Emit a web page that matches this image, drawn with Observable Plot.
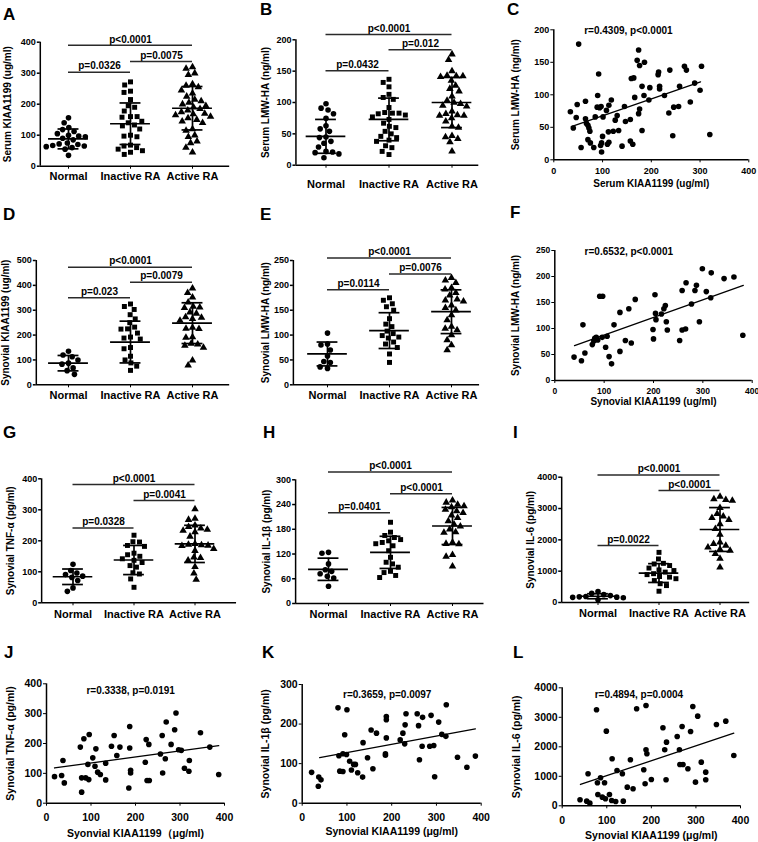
<!DOCTYPE html>
<html>
<head>
<meta charset="utf-8">
<script src="https://cdn.jsdelivr.net/npm/d3@7"></script>
<script src="https://cdn.jsdelivr.net/npm/@observablehq/plot@0.6"></script>
<style>
  html, body { margin: 0; padding: 0; background: #fff; }
  #fig { position: relative; width: 758px; height: 842px; background: #fff; overflow: hidden;
         font-family: 'Liberation Sans', Arial, Helvetica, sans-serif; }
  .letter { position: absolute; font-size: 17px; font-weight: bold; line-height: 17px; color: #000; }
</style>
</head>
<body>
<div id="fig"></div>
<script>
// ---------------- DATA ----------------
const cats = ["Normal", "Inactive RA", "Active RA"];
const pairs = [[0, 1], [1, 2], [0, 2]];

// A: Serum KIAA1199 (ug/ml)
const A_normal = [156, 140, 125, 118, 112, 105, 100, 97, 95, 90, 85, 75, 72, 70, 67, 65, 63, 60, 55, 35];
const A_inactive = [272, 262, 242, 238, 215, 195, 190, 178, 160, 160, 158, 145, 140, 133, 130, 120, 100, 97, 95, 68, 65, 60, 55, 50, 45, 38];
const A_active = [320, 315, 300, 295, 265, 260, 255, 245, 235, 225, 215, 210, 205, 200, 195, 190, 185, 180, 175, 170, 168, 165, 160, 155, 150, 145, 140, 120, 115, 100, 95, 80, 75, 60, 45];
const A_mean = [88, 137, 187], A_sd = [32, 67, 70];
const A_pLabels = ["p=0.0326", "p=0.0075", "p<0.0001"], A_pY = [303, 338, 390];
const A_ticks = [0, 100, 200, 300, 400];

// B: Serum LMW-HA (ng/ml)
const B_normal = [98, 91, 88, 82, 75, 63, 58, 54, 45, 44, 38, 35, 29, 22, 21, 20, 18, 12];
const B_inactive = [137, 132, 125, 113, 108, 105, 92, 84, 83, 83, 82, 80, 77, 73, 67, 62, 60, 54, 50, 46, 44, 40, 38, 31, 28, 22, 17];
const B_active = [177, 168, 150, 143, 142, 142, 141, 135, 127, 122, 118, 110, 103, 100, 98, 95, 94, 86, 82, 80, 79, 79, 75, 70, 62, 60, 47, 45, 42, 37, 22];
const B_mean = [46, 73, 100], B_sd = [27, 34, 40];
const B_pLabels = ["p=0.0432", "p=0.012", "p<0.0001"], B_pY = [150.5, 184, 208.5];
const B_ticks = [0, 50, 100, 150, 200];

// C: Serum KIAA1199 vs Serum LMW-HA
const C_x = [34, 40, 46, 48, 51, 56, 65, 65, 67, 70, 72, 74, 70, 75, 82, 85, 89, 90, 92, 94, 97, 96, 98, 98, 100, 101, 108, 113, 118, 110, 113, 112, 122, 126, 130, 133, 140, 145, 147, 157, 157, 162, 159, 164, 166, 171, 174, 176, 174, 176, 181, 181, 186, 185, 195, 197, 215, 214, 217, 217, 227, 238, 236, 244, 246, 256, 258, 268, 272, 280, 289, 300, 303, 320];
const C_y = [74, 49, 65, 85, 178, 19, 90, 63, 56, 53, 49, 44, 31, 26, 19, 66, 81, 99, 132, 80, 82, 22, 26, 12, 36, 66, 76, 84, 92, 24, 27, 43, 44, 61, 68, 45, 21, 82, 59, 62, 29, 24, 125, 126, 96, 153, 169, 145, 71, 78, 113, 45, 150, 99, 92, 111, 135, 131, 113, 109, 99, 138, 72, 37, 81, 82, 113, 144, 138, 89, 118, 107, 144, 39];
const C_fitX = [36, 301], C_fitY = [51, 120];
const C_note = "r=0.4309, p<0.0001";

// D: Synovial KIAA1199 (ug/ml)
const D_normal = [135, 120, 113, 100, 87, 83, 68, 57, 42];
const D_inactive = [325, 315, 303, 282, 265, 250, 232, 225, 224, 208, 192, 188, 184, 150, 145, 115, 100, 88, 75, 58];
const D_active = [388, 370, 352, 332, 315, 312, 310, 292, 287, 272, 270, 265, 258, 230, 226, 225, 192, 190, 166, 163, 158, 150, 98, 78];
const D_mean = [87, 172, 248], D_sd = [31, 84, 82];
const D_pLabels = ["p=0.023", "p=0.0079", "p<0.0001"], D_pY = [350, 413, 473];
const D_ticks = [0, 100, 200, 300, 400, 500];

// E: Synovial LMW-HA (ng/ml)
const E_normal = [104, 82, 80, 70, 58, 47, 45, 36, 33];
const E_inactive = [175, 170, 163, 157, 150, 133, 122, 117, 108, 103, 99, 96, 94, 86, 82, 75, 62, 45];
const E_active = [215, 210, 205, 195, 192, 185, 180, 172, 170, 168, 160, 155, 150, 140, 130, 117, 113, 110, 100, 90, 80, 70];
const E_mean = [62, 109, 147], E_sd = [24, 36, 44];
const E_pLabels = ["p=0.0114", "p=0.0076", "p<0.0001"], E_pY = [191, 223, 255];
const E_ticks = [0, 50, 100, 150, 200, 250];

// F: Synovial KIAA1199 vs Synovial LMW-HA
const F_x = [39, 54, 61, 57, 76, 79, 81, 84, 87, 96, 91, 97, 103, 106, 110, 115, 120, 132, 132, 143, 150, 155, 163, 199, 200, 203, 204, 205, 216, 221, 224, 226, 228, 253, 258, 258, 265, 266, 284, 287, 277, 293, 299, 307, 316, 317, 343, 363, 381];
const F_y = [45, 38, 53, 107, 69, 76, 81, 83, 78, 83, 162, 162, 64, 85, 46, 32, 107, 131, 56, 77, 138, 72, 156, 98, 80, 165, 129, 117, 128, 138, 144, 113, 97, 77, 173, 97, 99, 188, 173, 183, 147, 113, 215, 171, 159, 207, 196, 199, 87];
const F_fitX = [40, 382], F_fitY = [67, 183];
const F_note = "r=0.6532, p<0.0001";

// G: Synovial TNF-α (pg/ml)
const G_normal = [124, 104, 96, 91, 86, 82, 72, 48, 37];
const G_inactive = [218, 197, 196, 185, 182, 160, 155, 150, 142, 137, 130, 120, 115, 97, 93, 77, 50];
const G_active = [302, 272, 268, 250, 245, 240, 236, 233, 228, 214, 190, 188, 186, 185, 184, 174, 168, 147, 145, 137, 116, 95, 75];
const G_mean = [84, 138, 190], G_sd = [25, 47, 60];
const G_pLabels = ["p=0.0328", "p=0.0041", "p<0.0001"], G_pY = [241, 330, 382];
const G_ticks = [0, 100, 200, 300, 400];

// H: Synovial IL-1β (pg/ml)
const H_normal = [124, 122, 96, 82, 78, 72, 66, 62, 42];
const H_inactive = [197, 173, 165, 160, 155, 152, 148, 145, 140, 128, 112, 100, 96, 88, 78, 75, 68, 63];
const H_active = [250, 245, 240, 236, 234, 228, 224, 220, 214, 208, 200, 192, 187, 180, 173, 172, 148, 145, 144, 118, 114, 90];
const H_mean = [83, 124, 188], H_sd = [27, 39, 45];
const H_pLabels = ["p=0.0401", "p<0.0001", "p<0.0001"], H_pY = [220, 266, 319];
const H_ticks = [0, 60, 120, 180, 240, 300];

// I: Synovial IL-6 (pg/ml)
const I_normal = [350, 290, 250, 220, 190, 180, 170, 165, 150, 90];
const I_inactive = [1600, 1390, 1250, 1230, 1180, 1100, 1040, 1020, 970, 920, 890, 830, 810, 760, 700, 600, 540, 360];
const I_active = [3380, 3300, 3280, 3250, 3020, 2830, 2750, 2700, 2640, 2500, 2350, 2170, 1920, 1870, 1820, 1760, 1700, 1660, 1550, 1400, 1120];
const I_mean = [200, 940, 2330], I_sd = [80, 300, 700];
const I_pLabels = ["p=0.0022", "p<0.0001", "p<0.0001"], I_pY = [1819, 3574, 4074];
const I_ticks = [0, 1000, 2000, 3000, 4000];

// J: Synovial KIAA1199 vs TNF-α
const J_x = [18, 34, 37, 40, 76, 79, 79, 84, 88, 93, 95, 96, 104, 109, 111, 115, 121, 133, 133, 146, 152, 158, 165, 185, 187, 187, 189, 189, 222, 224, 226, 230, 231, 256, 260, 261, 267, 269, 280, 288, 291, 297, 303, 310, 320, 321, 346, 367, 387];
const J_y = [89, 93, 143, 68, 188, 37, 85, 216, 85, 130, 79, 230, 152, 124, 182, 104, 96, 78, 134, 191, 227, 160, 188, 51, 257, 185, 101, 110, 137, 213, 76, 197, 76, 165, 227, 101, 149, 272, 197, 246, 302, 179, 177, 117, 107, 143, 236, 188, 96];
const J_fitX = [18, 387], J_fitY = [118, 193];
const J_note = "r=0.3338, p=0.0191";

// K: Synovial KIAA1199 vs IL-1β
const K_x = [21, 36, 37, 42, 80, 82, 84, 91, 91, 95, 99, 100, 106, 110, 115, 119, 124, 135, 136, 146, 154, 158, 166, 186, 186, 188, 188, 188, 219, 225, 229, 230, 232, 257, 260, 262, 268, 269, 285, 288, 294, 296, 305, 312, 321, 322, 347, 368, 387];
const K_y = [78, 43, 66, 59, 241, 120, 81, 125, 80, 173, 123, 236, 106, 84, 98, 98, 77, 66, 153, 115, 185, 87, 177, 121, 125, 219, 211, 165, 160, 177, 150, 198, 226, 226, 196, 110, 144, 217, 144, 222, 146, 67, 205, 174, 169, 249, 116, 91, 119];
const K_fitX = [39, 387], K_fitY = [115, 188];
const K_note = "r=0.3659, p=0.0097";

// L: Synovial KIAA1199 vs IL-6
const L_x = [40, 55, 58, 62, 77, 79, 80, 86, 90, 95, 97, 99, 106, 112, 111, 120, 123, 135, 137, 146, 153, 159, 167, 183, 186, 188, 190, 188, 200, 226, 230, 233, 234, 258, 263, 264, 269, 271, 282, 288, 293, 299, 304, 312, 322, 322, 346, 367, 385];
const L_y = [203, 158, 1085, 90, 3254, 780, 384, 949, 294, 780, 237, 2531, 384, 1593, 181, 147, 1198, 1085, 158, 633, 1559, 576, 3288, 1220, 746, 1898, 1763, 3401, 893, 2644, 1898, 881, 2158, 2350, 1898, 1401, 2689, 1401, 1254, 2520, 3367, 802, 3039, 1480, 1141, 881, 2757, 2870, 1706];
const L_fitX = [41, 385], L_fitY = [723, 2463];
const L_note = "r=0.4894, p=0.0004";

const kiaaTicks = [0, 100, 200, 300, 400];

// ---------------- DRAWING ----------------
const FONT = "'Liberation Sans', Arial, Helvetica, sans-serif";
const fig = document.getElementById("fig");

function place(node, ox, oy) {
  node.style.position = "absolute";
  node.style.left = ox + "px";
  node.style.top = oy + "px";
  fig.appendChild(node);
}

function letter(t, x, baseline) {
  const d = document.createElement("div");
  d.className = "letter";
  d.textContent = t;
  d.style.left = x + "px";
  d.style.top = (baseline - 14.4) + "px";
  fig.appendChild(d);
}

function dotPanel(o) {
  const s = (o.c2 - o.c0) / 2;
  const left = o.c0 - s / 2, right = o.c2 + s / 2;
  const pts = o.groups.flatMap((arr, i) => arr.map(v => ({g: cats[i], v})));
  const stats = cats.map((g, i) => ({g, mean: o.mean[i], sd: o.sd[i]}));
  const brk = pairs.map(([a, b], i) => ({g: cats[a], span: (b - a) * s, y: o.pY[i], label: o.pLabels[i]}));
  const first = [cats[0]];
  const ax = o.axisX - o.c0;
  const plot = Plot.plot({
    width: o.cw, height: o.ch,
    marginLeft: left - o.ox, marginRight: o.ox + o.cw - right,
    marginTop: o.yTop - o.oy, marginBottom: o.oy + o.ch - o.yBot,
    style: {fontFamily: FONT, fontWeight: "bold", fontSize: "11px", color: "#000", background: "transparent", overflow: "visible"},
    fx: {domain: cats, padding: 0, label: null, axis: "bottom", tickSize: 3, tickPadding: o.catPad},
    x: {domain: [-s / 2, s / 2], axis: null},
    y: {domain: [0, o.ymax], axis: null},
    symbol: {domain: cats, range: ["circle", "square", "triangle"]},
    marks: [
      Plot.ruleX(first, {fx: d => d, x: ax, y1: 0, y2: o.ymax, strokeWidth: 1.5}),
      Plot.ruleY(first, {fx: d => d, y: 0, x1: ax, x2: o.xEnd - o.c0, strokeWidth: 1.5}),
      Plot.ruleY(o.yTicks, {fx: () => cats[0], y: d => d, x1: ax - 3, x2: ax, strokeWidth: 1.5}),
      Plot.text(o.yTicks, {fx: () => cats[0], y: d => d, x: ax - 4.5, textAnchor: "end", text: d => String(d), fontSize: 9}),
      Plot.text(first, {fx: d => d, x: o.titleX - o.c0, y: o.ymax / 2, rotate: -90, textAnchor: "middle", text: () => o.yTitle, fontSize: 10}),
      Plot.dot(pts, Plot.dodgeX("middle", {fx: "g", y: "v", symbol: "g", r: 2.8, fill: "black", stroke: "none", padding: 1.2})),
      Plot.ruleY(stats, {fx: "g", y: "mean", x1: -20, x2: 20, strokeWidth: 1.7}),
      Plot.ruleY(stats, {fx: "g", y: d => d.mean + d.sd, x1: -10.5, x2: 10.5, strokeWidth: 1.7}),
      Plot.ruleY(stats, {fx: "g", y: d => d.mean - d.sd, x1: -10.5, x2: 10.5, strokeWidth: 1.7}),
      Plot.ruleX(stats, {fx: "g", x: 0, y1: d => d.mean - d.sd, y2: d => d.mean + d.sd, strokeWidth: 1.7}),
      Plot.ruleY(brk, {fx: "g", y: "y", x1: 0, x2: "span", stroke: "#2a2a2a", strokeWidth: 1.5}),
      Plot.text(brk, {fx: "g", y: "y", x: d => d.span / 2, text: "label", dy: -6, fontSize: 10})
    ]
  });
  place(plot, o.ox, o.oy);
}

function scatterPanel(o) {
  const pts = o.xs.map((x, i) => ({x, y: o.ys[i]}));
  const fit = o.fitX.map((x, i) => ({x, y: o.fitY[i]}));
  const plot = Plot.plot({
    width: o.cw, height: o.ch,
    marginLeft: o.axisX - o.ox, marginRight: o.ox + o.cw - o.xRight,
    marginTop: o.yTop - o.oy, marginBottom: o.oy + o.ch - o.yBot,
    style: {fontFamily: FONT, fontWeight: "bold", fontSize: o.tickFont + "px", color: "#000", background: "transparent", overflow: "visible"},
    x: {domain: [0, 400], ticks: kiaaTicks, tickSize: 3, tickPadding: o.xPad, label: null, tickFormat: d => String(d)},
    y: {domain: [0, o.ymax], ticks: o.yTicks, tickSize: 3, tickPadding: 1.5, label: null, tickFormat: d => String(d)},
    marks: [
      Plot.ruleX([0], {y1: 0, y2: o.ymax, strokeWidth: 1.5}),
      Plot.ruleY([0], {x1: 0, x2: 400, strokeWidth: 1.5}),
      Plot.dot(pts, {x: "x", y: "y", r: 2.8, fill: "black", stroke: "none"}),
      Plot.line(fit, {x: "x", y: "y", strokeWidth: 1.3}),
      Plot.text([o.note], {x: o.noteX, y: o.noteY, text: d => d, fontSize: 10}),
      Plot.text([o.xTitle], {x: () => 200, frameAnchor: "bottom", lineAnchor: "middle", textAnchor: "middle", dy: o.xTitleDy, text: d => d, fontSize: o.titleFont}),
      Plot.text([o.yTitle], {y: () => o.ymax / 2, frameAnchor: "left", lineAnchor: "middle", textAnchor: "middle", dx: o.titleX - o.axisX, rotate: -90, text: d => d, fontSize: o.titleFont})
    ]
  });
  place(plot, o.ox, o.oy);
}

// Row 1
dotPanel({ox: 0, oy: 0, cw: 250, ch: 200, axisX: 40, c0: 68.3, c2: 192.7, xEnd: 230, yTop: 41.7, yBot: 165.7,
  ymax: 400, yTicks: A_ticks, titleX: 7, catPad: 3, groups: [A_normal, A_inactive, A_active],
  mean: A_mean, sd: A_sd, pY: A_pY, pLabels: A_pLabels, yTitle: "Serum KIAA1199 (ug/ml)"});
dotPanel({ox: 250, oy: 0, cw: 250, ch: 200, axisX: 295, c0: 325.3, c2: 452.3, xEnd: 479.3, yTop: 39.3, yBot: 164.7,
  ymax: 200, yTicks: B_ticks, titleX: 265, catPad: 12, groups: [B_normal, B_inactive, B_active],
  mean: B_mean, sd: B_sd, pY: B_pY, pLabels: B_pLabels, yTitle: "Serum LMW-HA (ng/ml)"});
scatterPanel({ox: 500, oy: 0, cw: 258, ch: 200, axisX: 553.3, xRight: 748.3, yTop: 29.3, yBot: 159.3,
  ymax: 200, yTicks: B_ticks, xPad: 5.2, tickFont: 9, titleFont: 10, xTitleDy: 23.7, titleX: 515.7,
  xs: C_x, ys: C_y, fitX: C_fitX, fitY: C_fitY, note: C_note, noteX: 153, noteY: 199,
  xTitle: "Serum KIAA1199 (ug/ml)", yTitle: "Serum LMW-HA (ng/ml)"});

// Row 2
dotPanel({ox: 0, oy: 200, cw: 250, ch: 210, axisX: 36, c0: 68.3, c2: 192.7, xEnd: 230, yTop: 260, yBot: 384.3,
  ymax: 500, yTicks: D_ticks, titleX: 5.7, catPad: 3.8, groups: [D_normal, D_inactive, D_active],
  mean: D_mean, sd: D_sd, pY: D_pY, pLabels: D_pLabels, yTitle: "Synovial KIAA1199 (ug/ml)"});
dotPanel({ox: 250, oy: 200, cw: 250, ch: 210, axisX: 292.3, c0: 326.7, c2: 451.7, xEnd: 480, yTop: 260, yBot: 384.3,
  ymax: 250, yTicks: E_ticks, titleX: 264.7, catPad: 3.8, groups: [E_normal, E_inactive, E_active],
  mean: E_mean, sd: E_sd, pY: E_pY, pLabels: E_pLabels, yTitle: "Synovial LMW-HA (ng/ml)"});
scatterPanel({ox: 500, oy: 200, cw: 258, ch: 210, axisX: 554.3, xRight: 751.7, yTop: 250, yBot: 380,
  ymax: 250, yTicks: E_ticks, xPad: 4.8, tickFont: 8.5, titleFont: 10, xTitleDy: 21.5, titleX: 515.7,
  xs: F_x, ys: F_y, fitX: F_fitX, fitY: F_fitY, note: F_note, noteX: 150, noteY: 247,
  xTitle: "Synovial KIAA1199 (ug/ml)", yTitle: "Synovial LMW-HA (ng/ml)"});

// Row 3
dotPanel({ox: 0, oy: 410, cw: 250, ch: 210, axisX: 40, c0: 71.7, c2: 195, xEnd: 237, yTop: 478.3, yBot: 602.3,
  ymax: 400, yTicks: G_ticks, titleX: 8.7, catPad: 4, groups: [G_normal, G_inactive, G_active],
  mean: G_mean, sd: G_sd, pY: G_pY, pLabels: G_pLabels, yTitle: "Synovial TNF-α (pg/ml)"});
dotPanel({ox: 250, oy: 410, cw: 250, ch: 210, axisX: 294.3, c0: 327.3, c2: 451.7, xEnd: 483.3, yTop: 479.3, yBot: 603,
  ymax: 300, yTicks: H_ticks, titleX: 265, catPad: 3.4, groups: [H_normal, H_inactive, H_active],
  mean: H_mean, sd: H_sd, pY: H_pY, pLabels: H_pLabels, yTitle: "Synovial IL-1β (pg/ml)"});
dotPanel({ox: 500, oy: 410, cw: 258, ch: 210, axisX: 560, c0: 596.7, c2: 720, xEnd: 750, yTop: 476.7, yBot: 602,
  ymax: 4000, yTicks: I_ticks, titleX: 529, catPad: 3.8, groups: [I_normal, I_inactive, I_active],
  mean: I_mean, sd: I_sd, pY: I_pY, pLabels: I_pLabels, yTitle: "Synovial IL-6 (pg/ml)"});

// Row 4
scatterPanel({ox: 0, oy: 620, cw: 250, ch: 222, axisX: 46, xRight: 224, yTop: 683.3, yBot: 802.7,
  ymax: 400, yTicks: G_ticks, xPad: 7.3, tickFont: 10.5, titleFont: 10.5, xTitleDy: 30.7, titleX: 10.5,
  xs: J_x, ys: J_y, fitX: J_fitX, fitY: J_fitY, note: J_note, noteX: 189, noteY: 375,
  xTitle: "Syonvial KIAA1199（μg/ml)", yTitle: "Synovial TNF-α (pg/ml)"});
scatterPanel({ox: 250, oy: 620, cw: 250, ch: 222, axisX: 301.7, xRight: 480.7, yTop: 684, yBot: 802.7,
  ymax: 300, yTicks: [0, 100, 200, 300], xPad: 7.3, tickFont: 10.5, titleFont: 10.5, xTitleDy: 28.3, titleX: 265,
  xs: K_x, ys: K_y, fitX: K_fitX, fitY: K_fitY, note: K_note, noteX: 190, noteY: 275,
  xTitle: "Synovial KIAA1199 (μg/ml)", yTitle: "Synovial IL-1β (pg/ml)"});
scatterPanel({ox: 500, oy: 620, cw: 258, ch: 222, axisX: 561.7, xRight: 740, yTop: 687.3, yBot: 805.3,
  ymax: 4000, yTicks: I_ticks, xPad: 8, tickFont: 10.5, titleFont: 10.5, xTitleDy: 29.7, titleX: 515.7,
  xs: L_x, ys: L_y, fitX: L_fitX, fitY: L_fitY, note: L_note, noteX: 172, noteY: 3773,
  xTitle: "Synovial KIAA1199 (μg/ml)", yTitle: "Synovial IL-6 (pg/ml)"});

// Panel letters
letter("A", 3, 20); letter("B", 260, 15); letter("C", 507, 15);
letter("D", 3, 220); letter("E", 260, 220); letter("F", 510, 218);
letter("G", 3, 438); letter("H", 263, 438); letter("I", 513, 438);
letter("J", 4, 658); letter("K", 262, 658); letter("L", 513, 658);
</script>
</body>
</html>
